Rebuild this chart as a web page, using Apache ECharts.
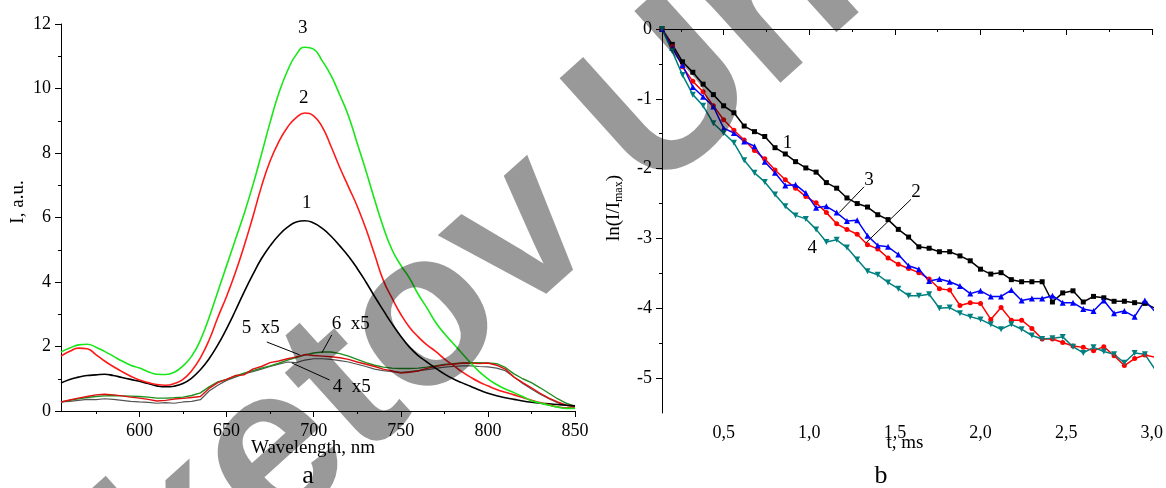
<!DOCTYPE html>
<html><head><meta charset="utf-8">
<script src="https://cdn.jsdelivr.net/npm/echarts@6/dist/echarts.min.js"></script>
<style>html,body{margin:0;padding:0;background:#fff}#c{width:1166px;height:488px}</style>
</head><body><div id="c"></div>
<script>
// ---- Panel a: spectra ----
const wavelength = [555,560,565,570,575,580,585,590,595,600,605,610,615,620,625,630,635,640,645,650,655,660,665,670,675,680,685,690,695,700,705,710,715,720,725,730,735,740,745,750,755,760,765,770,775,780,785,790,795,800,805,810,815,820,825,830,835,840,845,850];
const spec1 = [0.87,0.98,1.05,1.10,1.12,1.14,1.10,1.04,0.98,0.92,0.85,0.78,0.75,0.77,0.85,1.02,1.28,1.62,2.05,2.55,3.10,3.68,4.22,4.72,5.12,5.45,5.70,5.86,5.90,5.83,5.66,5.42,5.12,4.80,4.42,4.00,3.55,3.12,2.70,2.32,1.98,1.72,1.52,1.33,1.15,1.00,0.88,0.77,0.65,0.55,0.47,0.41,0.36,0.31,0.27,0.24,0.22,0.20,0.18,0.16];
const spec2 = [1.70,1.85,1.95,1.93,1.75,1.55,1.38,1.22,1.08,0.96,0.88,0.82,0.80,0.85,0.98,1.25,1.65,2.20,2.90,3.55,4.28,5.10,6.00,6.95,7.75,8.35,8.80,9.10,9.24,9.15,8.80,8.20,7.55,6.95,6.35,5.65,4.85,4.05,3.50,3.00,2.60,2.30,2.05,1.85,1.62,1.42,1.22,1.05,0.90,0.78,0.67,0.58,0.50,0.42,0.33,0.26,0.19,0.13,0.10,0.10];
const spec3 = [1.83,1.95,2.05,2.07,1.98,1.85,1.70,1.55,1.42,1.33,1.22,1.14,1.13,1.20,1.40,1.70,2.20,2.90,3.70,4.50,5.30,6.10,6.98,7.95,8.95,9.85,10.55,11.05,11.28,11.22,10.85,10.40,9.80,9.15,8.30,7.45,6.55,5.70,5.00,4.52,4.12,3.62,3.20,2.75,2.40,2.10,1.80,1.50,1.22,1.00,0.82,0.68,0.57,0.45,0.32,0.25,0.18,0.12,0.08,0.08];
const spec4 = [0.28,0.30,0.33,0.36,0.35,0.38,0.36,0.33,0.30,0.28,0.27,0.24,0.26,0.24,0.28,0.30,0.35,0.62,0.80,0.95,1.05,1.15,1.22,1.30,1.38,1.45,1.52,1.50,1.58,1.62,1.62,1.60,1.56,1.52,1.45,1.38,1.30,1.25,1.22,1.20,1.22,1.25,1.28,1.32,1.36,1.38,1.40,1.40,1.38,1.37,1.33,1.25,1.05,0.85,0.68,0.52,0.38,0.26,0.17,0.14];
const spec5 = [0.28,0.33,0.38,0.42,0.45,0.47,0.48,0.47,0.46,0.45,0.43,0.40,0.40,0.41,0.43,0.48,0.56,0.75,0.90,0.98,1.08,1.17,1.25,1.33,1.40,1.48,1.58,1.66,1.74,1.80,1.83,1.83,1.78,1.70,1.60,1.50,1.42,1.36,1.33,1.32,1.32,1.33,1.36,1.40,1.44,1.47,1.49,1.50,1.50,1.49,1.47,1.35,1.15,1.00,0.88,0.72,0.55,0.38,0.24,0.14];
const spec6 = [0.28,0.34,0.40,0.45,0.50,0.52,0.50,0.47,0.43,0.40,0.36,0.31,0.33,0.37,0.39,0.42,0.45,0.70,0.88,0.98,1.10,1.12,1.30,1.38,1.50,1.55,1.62,1.68,1.75,1.72,1.70,1.68,1.65,1.60,1.52,1.45,1.38,1.30,1.24,1.18,1.20,1.24,1.32,1.38,1.43,1.45,1.48,1.49,1.47,1.49,1.42,1.30,1.05,0.88,0.72,0.55,0.40,0.28,0.18,0.14];
const xTicksA = [600,650,700,750,800,850];
const xMinorA = [575,625,675,725,775,825];

// ---- Panel b: decay ----
const tms = [0.14,0.20,0.26,0.32,0.38,0.44,0.50,0.56,0.62,0.68,0.74,0.80,0.86,0.92,0.98,1.04,1.10,1.16,1.22,1.28,1.34,1.40,1.46,1.52,1.58,1.64,1.70,1.76,1.82,1.88,1.94,2.00,2.06,2.12,2.18,2.24,2.30,2.36,2.42,2.48,2.54,2.60,2.66,2.72,2.78,2.84,2.90,2.96,3.02];
const decay1 = [0,-0.22,-0.47,-0.62,-0.79,-0.94,-1.10,-1.20,-1.39,-1.47,-1.54,-1.70,-1.79,-1.90,-1.99,-2.05,-2.20,-2.28,-2.42,-2.50,-2.55,-2.66,-2.73,-2.87,-2.98,-3.12,-3.14,-3.19,-3.19,-3.25,-3.32,-3.44,-3.51,-3.49,-3.59,-3.62,-3.62,-3.62,-3.91,-3.78,-3.75,-3.91,-3.83,-3.85,-3.90,-3.90,-3.92,-3.93,-4.00];
const decay2 = [0,-0.25,-0.54,-0.75,-0.90,-1.10,-1.30,-1.45,-1.59,-1.74,-1.86,-2.02,-2.16,-2.28,-2.40,-2.49,-2.63,-2.79,-2.87,-2.94,-3.09,-3.15,-3.28,-3.37,-3.43,-3.49,-3.58,-3.72,-3.74,-3.96,-3.92,-3.93,-4.16,-3.99,-4.17,-4.17,-4.29,-4.44,-4.44,-4.49,-4.54,-4.56,-4.61,-4.55,-4.68,-4.82,-4.72,-4.67,-4.70];
const decay3 = [0,-0.27,-0.52,-0.83,-0.97,-1.11,-1.42,-1.49,-1.61,-1.68,-1.90,-2.06,-2.24,-2.23,-2.35,-2.56,-2.54,-2.63,-2.75,-2.74,-2.96,-3.10,-3.12,-3.23,-3.39,-3.44,-3.61,-3.58,-3.62,-3.68,-3.79,-3.75,-3.83,-3.83,-3.74,-3.89,-3.86,-3.86,-3.82,-3.92,-3.92,-4.01,-4.04,-3.89,-4.07,-4.04,-4.12,-3.89,-4.05];
const decay4 = [0,-0.32,-0.66,-0.94,-1.10,-1.35,-1.49,-1.63,-1.88,-2.06,-2.19,-2.37,-2.54,-2.67,-2.72,-2.87,-3.05,-3.02,-3.13,-3.30,-3.47,-3.52,-3.63,-3.72,-3.82,-3.82,-3.80,-4.00,-3.99,-4.07,-4.12,-4.16,-4.23,-4.30,-4.23,-4.30,-4.39,-4.44,-4.43,-4.41,-4.55,-4.64,-4.56,-4.62,-4.66,-4.78,-4.64,-4.66,-4.88];
const xTicksB = [0.5,1.0,1.5,2.0,2.5,3.0];
const xMinorB = [0.25,0.75,1.25,1.75,2.25,2.75];
const yTicksB = [0,-1,-2,-3,-4,-5];
const yMinorB = [-0.5,-1.5,-2.5,-3.5,-4.5];

// annotations (data coordinates)
const notesA = [['3',693.8,11.88],['2',694.3,9.71],['1',696,6.45],['5  x5',669.7,2.57],['6  x5',721.3,2.7],['4  x5',721.9,0.74]];
const leadersA = [[673.1,2.14,692,1.74],[710.4,2.36,704.7,1.8],[709.2,0.96,687.5,1.49]];
const notesB = [['1',0.873,-1.63],['3',1.349,-2.16],['2',1.623,-2.33],['4',1.018,-3.13]];
const leadersB = [[1.32,-2.26,1.175,-2.63],[1.594,-2.44,1.332,-3.06]];
const watermarkText = 'Buketov University';

const FONT = 'Liberation Serif';
const black = '#000';
function pair(xs, ys){ return xs.map((x,i)=>[x, ys[i]]); }

const majorAxis = (extra) => Object.assign({
  type:'value', axisLine:{show:true,lineStyle:{color:black,width:1}},
  axisTick:{show:true,inside:false,length:6,lineStyle:{color:black}},
  axisLabel:{color:black,fontFamily:FONT,fontSize:18},
  splitLine:{show:false}
}, extra);
const minorAxis = (extra) => Object.assign({
  type:'value', axisLine:{show:false},
  axisTick:{show:true,inside:false,length:3,lineStyle:{color:black}},
  axisLabel:{show:false}, splitLine:{show:false}
}, extra);

const chart = echarts.init(document.getElementById('c'), null, {renderer:'canvas'});
const lineA = (name, data, color, w, smooth) => ({type:'line', name, xAxisIndex:0, yAxisIndex:0, data:pair(wavelength,data), showSymbol:false, smooth: smooth, lineStyle:{color, width:w}, itemStyle:{color}, animation:false, z:3});
const lineB = (name, data, color, symbol, size, rot) => ({type:'line', name, xAxisIndex:2, yAxisIndex:2, data:pair(tms,data), symbol, symbolSize:size, symbolRotate:rot||0, showSymbol:true, lineStyle:{color,width:1.5}, itemStyle:{color}, animation:false, z:3});

chart.setOption({
  animation:false,
  grid:[{left:61,top:24,width:514,height:387},{left:662,top:29,width:491,height:384}],
  xAxis:[
    majorAxis({gridIndex:0,position:'bottom',min:555,max:850,axisTick:{show:true,length:6,lineStyle:{color:black},customValues:xTicksA},axisLabel:{color:black,fontFamily:FONT,fontSize:18,margin:11,customValues:xTicksA}}),
    minorAxis({gridIndex:0,position:'bottom',min:555,max:850,axisTick:{show:true,length:3,lineStyle:{color:black},customValues:xMinorA}}),
    majorAxis({gridIndex:1,position:'bottom',min:0.14,max:3.0,axisTick:{show:true,length:6,lineStyle:{color:black},customValues:xTicksB},axisLabel:{color:black,fontFamily:FONT,fontSize:18,margin:11,customValues:xTicksB,formatter:v=>v.toFixed(1).replace('.',',')}}),
    minorAxis({gridIndex:1,position:'bottom',min:0.14,max:3.0,axisTick:{show:true,length:3,lineStyle:{color:black},customValues:xMinorB}})
  ],
  yAxis:[
    majorAxis({gridIndex:0,position:'left',min:0,max:12,interval:2,minorTick:{show:true,splitNumber:2,length:3,lineStyle:{color:black}},axisLabel:{color:black,fontFamily:FONT,fontSize:18,margin:10}}),
    minorAxis({gridIndex:0,position:'left',min:0,max:12,axisTick:{show:false}}),
    majorAxis({gridIndex:1,position:'left',min:-5.5,max:0,axisTick:{show:true,length:6,lineStyle:{color:black},customValues:yTicksB},axisLabel:{color:black,fontFamily:FONT,fontSize:18,margin:10,customValues:yTicksB,formatter:v=>String(v)}}),
    minorAxis({gridIndex:1,position:'left',min:-5.5,max:0,axisTick:{show:true,length:3,lineStyle:{color:black},customValues:yMinorB}})
  ],
  series:[
    lineA('4', spec4, '#555555', 1.2, false),
    lineA('5', spec5, '#1f8f1f', 1.4, false),
    lineA('6', spec6, '#e01010', 1.4, false),
    lineA('1', spec1, '#000000', 1.6, true),
    lineA('2', spec2, '#ff1a1a', 1.6, true),
    lineA('3', spec3, '#19e619', 1.6, true),
    lineB('1', decay1, '#000000', 'rect', 5),
    lineB('2', decay2, '#ff0000', 'circle', 5),
    lineB('3', decay3, '#0000ff', 'triangle', 6),
    lineB('4', decay4, '#008080', 'triangle', 6, 180)
  ]
});

const g = [];
const px = (ax, x, y) => chart.convertToPixel({xAxisIndex:ax, yAxisIndex:ax}, [x,y]);
notesA.forEach(n => { const p = px(0,n[1],n[2]); g.push({type:'text',x:p[0],y:p[1],style:{text:n[0],font:'19px '+FONT,fill:black,align:'center',verticalAlign:'middle'},z:10}); });
leadersA.forEach(l => { const a = px(0,l[0],l[1]), b = px(0,l[2],l[3]); g.push({type:'line',shape:{x1:a[0],y1:a[1],x2:b[0],y2:b[1]},style:{stroke:black,lineWidth:1},z:10}); });
notesB.forEach(n => { const p = px(2,n[1],n[2]); g.push({type:'text',x:p[0],y:p[1],style:{text:n[0],font:'19px '+FONT,fill:black,align:'center',verticalAlign:'middle'},z:10}); });
leadersB.forEach(l => { const a = px(2,l[0],l[1]), b = px(2,l[2],l[3]); g.push({type:'line',shape:{x1:a[0],y1:a[1],x2:b[0],y2:b[1]},style:{stroke:black,lineWidth:1},z:10}); });
// axis names and panel letters
g.push({type:'text',x:18,y:202,rotation:Math.PI/2,style:{text:'I, a.u.',font:'19px '+FONT,fill:black,align:'center',verticalAlign:'middle'},z:10});
g.push({type:'text',x:313,y:448,style:{text:'Wavelength, nm',font:'19px '+FONT,fill:black,align:'center',verticalAlign:'middle'},z:10});
g.push({type:'text',x:308,y:476,style:{text:'a',font:'26px '+FONT,fill:black,align:'center',verticalAlign:'middle'},z:10});
g.push({type:'text',x:905,y:443,style:{text:'t, ms',font:'19px '+FONT,fill:black,align:'center',verticalAlign:'middle'},z:10});
g.push({type:'text',x:881,y:476,style:{text:'b',font:'26px '+FONT,fill:black,align:'center',verticalAlign:'middle'},z:10});
g.push({type:'text',x:614,y:208,rotation:Math.PI/2,style:{text:'{a|ln(I/I}{s|max}{a|)}',align:'center',verticalAlign:'middle',rich:{a:{font:'19px '+FONT,fill:black,lineHeight:22,verticalAlign:'middle'},s:{font:'12px '+FONT,fill:black,lineHeight:22,verticalAlign:'bottom',padding:[10,0,0,0]}}},z:10});
// watermark
g.push({type:'text',x:-80,y:776,rotation:42*Math.PI/180,style:{text:watermarkText,font:'bold 220px Liberation Sans',fill:'rgba(0,0,0,0.4)',align:'left',verticalAlign:'middle'},z:50});
chart.setOption({graphic:g});
</script></body></html>
